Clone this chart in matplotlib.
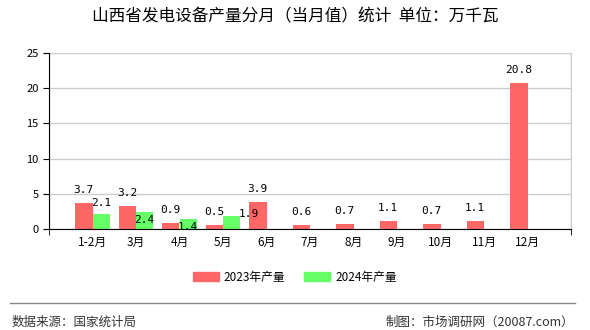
import numpy as np
import matplotlib
matplotlib.use('Agg')
import matplotlib.pyplot as plt
from matplotlib.patches import Patch

plt.rcParams['font.family'] = ['Noto Sans CJK SC', 'DejaVu Sans']

months = ['1-2月', '3月', '4月', '5月', '6月', '7月', '8月', '9月', '10月', '11月', '12月']
v2023 = [3.7, 3.2, 0.9, 0.5, 3.9, 0.6, 0.7, 1.1, 0.7, 1.1, 20.8]
v2024 = [2.1, 2.4, 1.4, 1.9]
# ECharts-like label offsets (pixels) for the 2024 series
off2024 = [(0, 11), (0, -8), (0, -8), (17, 2)]

red = '#ff6666'
green = '#66ff66'

fig = plt.figure(figsize=(5.9, 3.3), dpi=100, facecolor='white')
ax = fig.add_axes([49/590, 1-229/330, 522/590, 176/330])

x = np.arange(1, len(months) + 1)
w = 0.4
ax.bar(x - w/2, v2023, width=w, color=red, zorder=3)
ax.bar(x[:len(v2024)] + w/2, v2024, width=w, color=green, zorder=3)

for xi, v in zip(x, v2023):
    ax.annotate(f'{v}', (xi - w/2, v), xytext=(0, 13), textcoords='offset pixels',
                ha='center', va='center', fontsize=8, family='DejaVu Sans Mono', zorder=4)
for xi, v, o in zip(x, v2024, off2024):
    ax.annotate(f'{v}', (xi + w/2, v), xytext=o, textcoords='offset pixels',
                ha='center', va='center', fontsize=8, family='DejaVu Sans Mono', zorder=4)

ax.set_xlim(0, 12)
ax.set_ylim(0, 25)
ax.set_xticks(x)
ax.set_xticklabels(months, fontsize=8.5)
ax.set_xticks(np.arange(0, 13), minor=True)
ax.set_yticks([0, 5, 10, 15, 20, 25])
ax.tick_params(axis='y', labelsize=8, length=4, color='black')
ax.tick_params(axis='x', which='major', length=0, pad=5)
ax.tick_params(axis='x', which='minor', length=4, color='black')
ax.grid(True, axis='y', color='#cccccc', linewidth=1, zorder=0)
ax.grid(True, axis='x', which='minor', color='#cccccc', linewidth=1, zorder=0)
ax.spines['top'].set_visible(False)
ax.spines['right'].set_color('#cccccc')
ax.spines['left'].set_color('black')
ax.spines['bottom'].set_color('black')
ax.spines['bottom'].set_zorder(5)

fig.text(0.5, 1-17/330, '山西省发电设备产量分月（当月值）统计  单位：万千瓦',
         ha='center', va='center', fontsize=12)

handles = [Patch(color=red), Patch(color=green)]
fig.legend(handles, ['2023年产量', '2024年产量'], loc='center',
           bbox_to_anchor=(0.5, 1-277/330), ncol=2, frameon=False, fontsize=8.5,
           handlelength=2.2, handleheight=0.9, columnspacing=1.6, handletextpad=0.4)

fig.add_artist(plt.Line2D([10/590, 575/590], [1-303/330, 1-303/330],
                          color='#888888', linewidth=1))
fig.text(12/590, 1-322/330, '数据来源：国家统计局', ha='left', va='center',
         fontsize=9, color='#333333')
fig.text(574/590, 1-322/330, '制图：市场调研网（20087.com）', ha='right', va='center',
         fontsize=9, color='#333333')

plt.savefig('out.png', dpi=100)
